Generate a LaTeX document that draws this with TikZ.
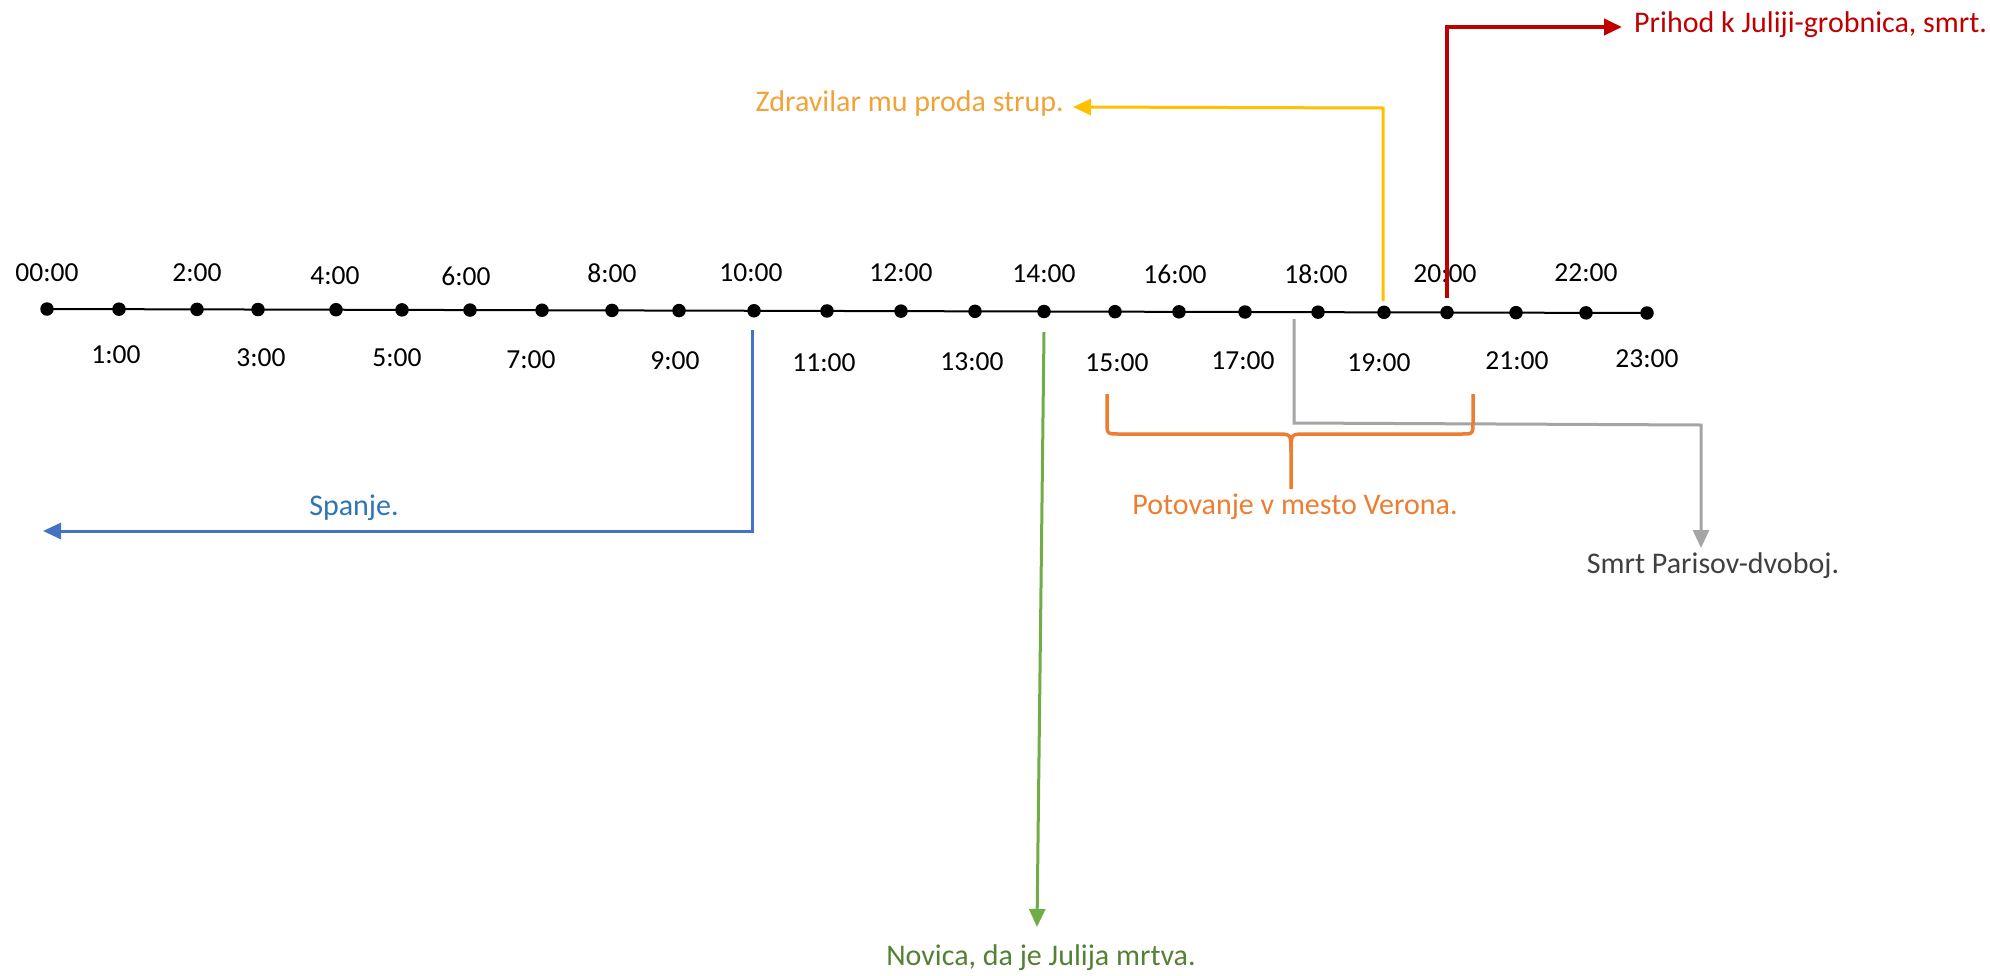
\documentclass[tikz,border=0pt]{standalone}
\usepackage{fontspec}
\setmainfont{Carlito}
\usetikzlibrary{arrows.meta}
\definecolor{cblue}{HTML}{4472C4}
\definecolor{cbluetxt}{HTML}{2F75B5}
\definecolor{cgreen}{HTML}{70AD47}
\definecolor{cgreentxt}{HTML}{548235}
\definecolor{corange}{HTML}{ED7D31}
\definecolor{cyellow}{HTML}{FFC000}
\definecolor{cyellowtxt}{HTML}{F2A236}
\definecolor{cgray}{HTML}{A5A5A5}
\definecolor{cgraytxt}{HTML}{404040}
\definecolor{cred}{HTML}{C00000}
\tikzset{
  dotnode/.style={circle,fill=black,inner sep=0pt,minimum size=13.5pt},
  tlabel/.style={inner sep=0pt,font=\fontsize{27.5}{33}\selectfont},
  evlabel/.style={inner sep=0pt,font=\fontsize{30}{36}\selectfont},
  conn/.style={line width=3pt,-{Triangle[length=18pt,width=16pt]}},
}
\begin{document}
\begin{tikzpicture}[x=1pt,y=-1pt]
\useasboundingbox[fill=white] (0,0) rectangle (1990,975);
% timeline
\draw[line width=2pt] (47,309) -- (1647,313);
\foreach \i/\x in {0/47,1/119,2/197,3/258,4/336,5/402,6/470,7/542,8/612,9/679,10/754,11/827,12/901,13/975,14/1044,15/1115,16/1179,17/1245,18/1318,19/1384,20/1447,21/1516,22/1586,23/1647}
  \node[dotnode] (d\i) at (\x,{309+4*(\x-47)/1600}) {};
% hour labels above
\node[tlabel] (l0) at (47,273) {00:00};
\node[tlabel] (l2) at (197,273) {2:00};
\node[tlabel] (l4) at (335,276) {4:00};
\node[tlabel] (l6) at (466,276) {6:00};
\node[tlabel] (l8) at (612,273) {8:00};
\node[tlabel] (l10) at (751,273) {10:00};
\node[tlabel] (l12) at (901,273) {12:00};
\node[tlabel] (l14) at (1044,274) {14:00};
\node[tlabel] (l16) at (1175,274) {16:00};
\node[tlabel] (l18) at (1316,274) {18:00};
\node[tlabel] (l20) at (1445,274) {20:00};
\node[tlabel] (l22) at (1586,273) {22:00};
% hour labels below
\node[tlabel] (l1) at (116,355) {1:00};
\node[tlabel] (l3) at (261,358) {3:00};
\node[tlabel] (l5) at (397,358) {5:00};
\node[tlabel] (l7) at (531,360) {7:00};
\node[tlabel] (l9) at (675,361) {9:00};
\node[tlabel] (l11) at (824,363) {11:00};
\node[tlabel] (l13) at (972,362) {13:00};
\node[tlabel] (l15) at (1117,363) {15:00};
\node[tlabel] (l17) at (1243,361) {17:00};
\node[tlabel] (l19) at (1379,363) {19:00};
\node[tlabel] (l21) at (1517,361) {21:00};
\node[tlabel] (l23) at (1647,359) {23:00};
% event labels
\node[evlabel,text=cbluetxt] (spanje) at (354,508) {Spanje.};
\node[evlabel,text=cgreentxt] (novica) at (1041,958) {Novica, da je Julija mrtva.};
\node[evlabel,text=corange] (verona) at (1295,507) {Potovanje v mesto Verona.};
\node[evlabel,text=cgraytxt] (paris) at (1713,566) {Smrt Parisov-dvoboj.};
\node[evlabel,text=cyellowtxt,anchor=east] (strup) at (1064,103) {Zdravilar mu proda strup.};
\node[evlabel,text=cred,anchor=west] (grob) at (1634,25) {Prihod k Juliji-grobnica, smrt.};
% blue
\coordinate (b0) at (752,330);
\coordinate (b1) at (752,531);
\coordinate (b2) at (43,531);
\draw[conn,cblue] (b0) -- (b1) -- (b2);
% green
\coordinate (g0) at (1044,332);
\coordinate (g1) at (1037,927);
\draw[conn,cgreen] (g0) -- (g1);
% gray
\coordinate (s0) at (1294,319);
\coordinate (s1) at (1294,423);
\coordinate (s2) at (1701,425);
\coordinate (s3) at (1701,548);
\draw[conn,cgray] (s0) -- (s1) -- (s2) -- (s3);
% yellow
\coordinate (y0) at (1383,301);
\coordinate (y1) at (1383,108);
\coordinate (y2) at (1073,107);
\draw[conn,cyellow] (y0) -- (y1) -- (y2);
% red
\coordinate (r0) at (1447,298);
\coordinate (r1) at (1447,27);
\coordinate (r2) at (1622,27);
\draw[conn,cred,line width=4pt] (r0) -- (r1) -- (r2);
% orange brace
\coordinate (o0) at (1107,394);
\coordinate (o1) at (1473,394);
\coordinate (om) at (1291,489);
\draw[corange,line width=3.5pt,line join=round]
  (o0) -- (1107,422) .. controls (1107,434) .. (1119,434) -- (1277,434)
  .. controls (1291,434) .. (1291,452) -- (om);
\draw[corange,line width=3.5pt,line join=round]
  (o1) -- (1473,422) .. controls (1473,434) .. (1461,434) -- (1305,434)
  .. controls (1291,434) .. (1291,452);
\end{tikzpicture}
\end{document}
